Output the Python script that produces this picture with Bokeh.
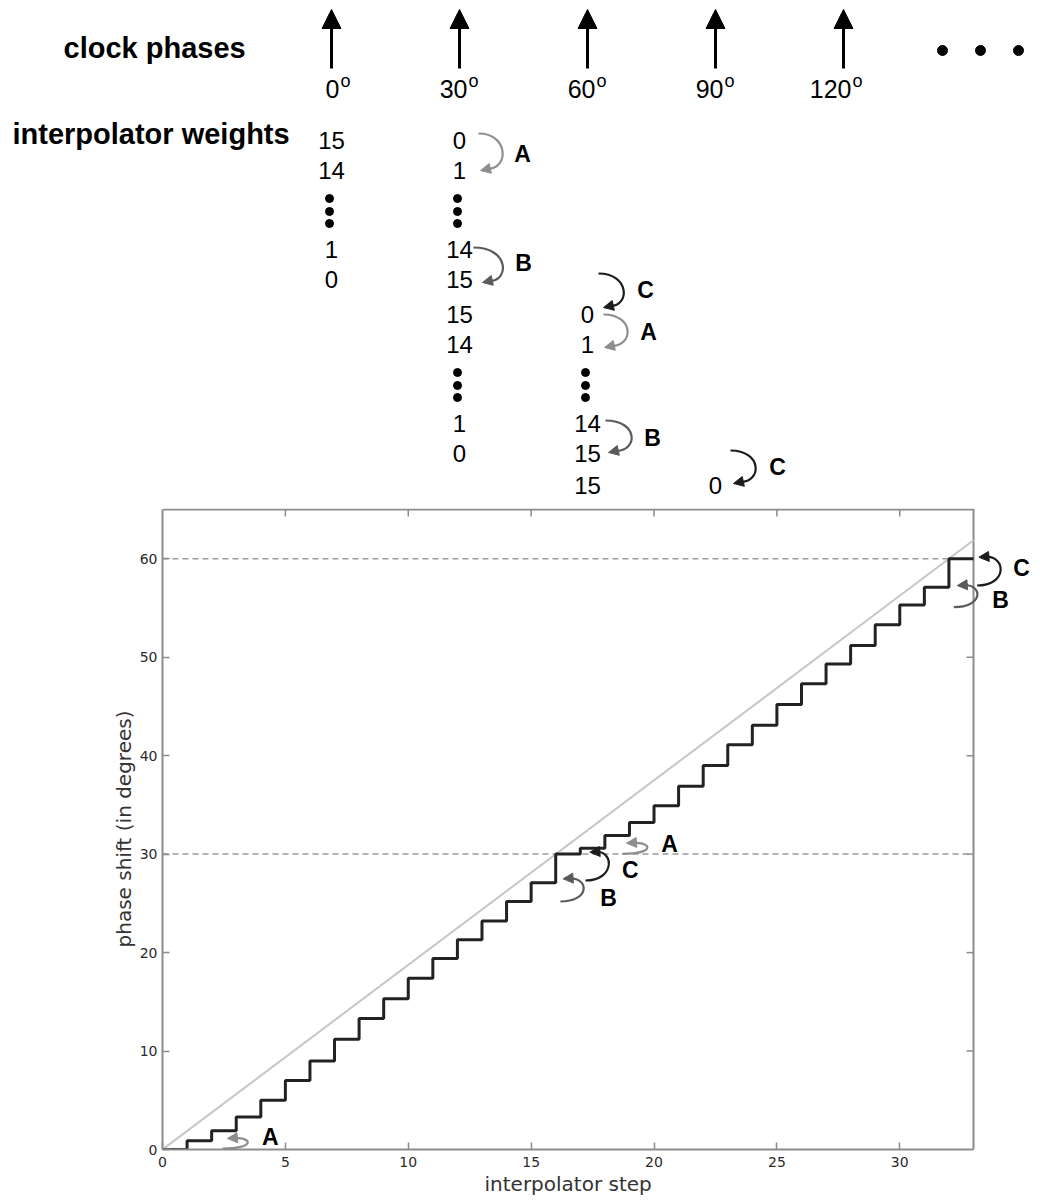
from bokeh.plotting import figure
from bokeh.layouts import column
from bokeh.models import Range1d, FixedTicker, Arrow, NormalHead, Title
from bokeh.core.properties import value
from bokeh.embed import file_html
from bokeh.resources import INLINE

# ---------------- chart data ----------------
interp_step = list(range(33))
phase_shift = [0.0, 0.9, 1.9, 3.3, 5.0, 7.0, 9.0, 11.2, 13.3, 15.3, 17.4, 19.4, 21.3, 23.2, 25.2, 27.1,
               30.0, 30.6, 31.9, 33.2, 34.9, 36.9, 39.0, 41.1, 43.1, 45.2, 47.3, 49.3, 51.2, 53.3, 55.3, 57.1,
               60.0]
ideal_step = [0, 33]
ideal_phase = [0.0, 61.875]
ref_levels = [30, 60]
x_ticks = [0, 5, 10, 15, 20, 25, 30]
y_ticks = [0, 10, 20, 30, 40, 50, 60]
X_MAX = 33
Y_MAX = 65
x_title = "interpolator step"
y_title = "phase shift (in degrees)"

# chart annotations: (label, start_x, start_y, right_x, tip_x, tip_y, label_x, label_y)
chart_arcs = [
    ("A", 2.44, 0.10, 3.46, 2.64, 1.12, 4.39, 1.32),
    ("B", 16.19, 25.19, 17.13, 16.30, 27.49, 18.15, 25.59),
    ("C", 17.21, 27.32, 18.15, 17.39, 30.19, 19.04, 28.34),
    ("A", 18.71, 30.03, 19.72, 18.88, 31.11, 20.63, 30.98),
    ("B", 32.20, 55.08, 33.15, 32.34, 57.28, 34.10, 55.76),
    ("C", 33.15, 57.28, 34.10, 33.22, 60.16, 34.95, 59.11),
]

# ---------------- diagram data ----------------
clock_phases = ["0", "30", "60", "90", "120"]
row_labels = ["clock phases", "interpolator weights"]
# (column index, block index, weights)
weight_runs = [
    (0, 0, ["15", "14", "1", "0"]),
    (1, 0, ["0", "1", "14", "15"]),
    (1, 1, ["15", "14", "1", "0"]),
    (2, 1, ["0", "1", "14", "15"]),
    (2, 2, ["15"]),
    (3, 2, ["0"]),
]
# diagram arcs (page px): (label, start_x, start_y, right_x, tip_x, tip_y, label_x, label_y)
diagram_arcs = [
    ("A", 478, 133, 502, 480, 170, 522, 153),
    ("B", 473, 247, 502, 482, 282, 523, 262),
    ("C", 598, 273, 623, 603, 307, 645, 289),
    ("A", 603, 314, 627, 604, 347, 648, 331),
    ("B", 605, 420, 631, 608, 452, 652, 437),
    ("C", 730, 450, 755, 733, 483, 777, 466),
]

ARC_COLORS = {"A": "#8e8e8e", "B": "#5a5a5a", "C": "#1c1c1c"}
COL_X = [331, 459, 587, 715, 843]
BLOCK_Y = [140, 314, 485]        # visual centres of the first weight row of each block
ROW_OFF = [0, 30, 109, 139]
DOT_OFF = [58, 71, 83]
ELLIPSIS_X = [942, 980, 1018]

SANS = value("Liberation Sans")
W = 1040
TOP_H = 508


def bez(sx, sy, rx, ex, ey):
    xr = (8 * rx - sx - ex) / 6.0
    return dict(x0=[sx], y0=[sy], x1=[ex], y1=[ey], cx0=[xr], cy0=[sy], cx1=[xr], cy1=[ey])


# ================= top diagram figure =================
top = figure(width=W, height=TOP_H, x_range=Range1d(0, W), y_range=Range1d(TOP_H, 0),
             output_backend="svg", toolbar_location=None,
             min_border_left=0, min_border_right=0, min_border_top=0, min_border_bottom=0)
top.frame_align = False
top.axis.visible = False
top.grid.visible = False
top.outline_line_color = None
top.background_fill_color = "white"
top.border_fill_color = "white"

top.text(x=[63, 12], y=[47, 133], text=row_labels, text_font=SANS,
         text_font_size=value("29px"), text_font_style="bold",
         text_align="left", text_baseline="alphabetic", text_color="black")

# clock phase arrows and labels
for i, ph in enumerate(clock_phases):
    cx = COL_X[i]
    top.add_layout(Arrow(end=NormalHead(size=19, fill_color="black", line_color="black", line_width=1),
                         x_start=cx, y_start=68, x_end=cx, y_end=9,
                         line_color="black", line_width=3))
top.text(x=[c + 8 for c in COL_X], y=[88] * len(COL_X), text=clock_phases, text_font=SANS,
         text_font_size=value("25px"), text_align="right", text_baseline="alphabetic",
         text_color="black")
top.text(x=[c + 9 for c in COL_X], y=[80] * len(COL_X), text=["o"] * len(COL_X), text_font=SANS,
         text_font_size=value("18px"), text_align="left", text_baseline="alphabetic",
         text_color="black")
top.scatter(x=ELLIPSIS_X, y=[50] * 3, size=10, marker="circle", color="black")

# interpolator weights
for col, blk, vals in weight_runs:
    xs = [COL_X[col]] * len(vals)
    ys = [BLOCK_Y[blk] + ROW_OFF[k] for k in range(len(vals))]
    top.text(x=xs, y=ys, text=vals, text_font=SANS, text_font_size=value("24px"),
             text_align="center", text_baseline="alphabetic", text_color="black")
    if len(vals) == 4:
        top.scatter(x=[COL_X[col] - 2] * 3, y=[BLOCK_Y[blk] + d for d in DOT_OFF],
                    size=8, marker="circle", color="black")

for lab, sx, sy, rx, tx, ty, lx, ly in diagram_arcs:
    c = ARC_COLORS[lab]
    ex, ey = tx + 7, ty - 1.5
    top.bezier(**bez(sx, sy, rx, ex, ey), line_color=c, line_width=2.2)
    top.add_layout(Arrow(end=NormalHead(size=10, fill_color=c, line_color=c, line_width=1),
                         x_start=ex, y_start=ey, x_end=tx, y_end=ty, line_color=c, line_width=2))
    top.text(x=[lx], y=[ly], text=[lab], text_font=SANS, text_font_size=value("23px"),
             text_font_style="bold", text_align="center", text_baseline="alphabetic",
             text_color="black")

# ================= chart figure =================
FRAME_L = 162
FRAME_B = 1149
CHART_H = 1202 - TOP_H
FRAME_H = FRAME_B - TOP_H
PX_Y = 9.846
PX_X = 24.576
Y_END = FRAME_H / PX_Y
X_END = (W - FRAME_L) / PX_X

chart = figure(width=W, height=CHART_H, x_range=Range1d(0, X_END), y_range=Range1d(0, Y_END),
               output_backend="svg", toolbar_location=None,
               min_border_left=FRAME_L, min_border_right=0, min_border_top=0,
               min_border_bottom=CHART_H - FRAME_H)
chart.frame_align = False
chart.outline_line_color = None
chart.grid.visible = False
chart.background_fill_color = "white"
chart.border_fill_color = "white"

AX_COL = "#8c8c8c"
for ax in (chart.xaxis[0], chart.yaxis[0]):
    ax.axis_line_color = AX_COL
    ax.axis_line_width = 2
    ax.major_tick_line_color = AX_COL
    ax.major_tick_line_width = 1.5
    ax.major_tick_in = 7
    ax.major_tick_out = 0
    ax.minor_tick_line_color = None
    ax.major_label_text_font = "DejaVu Sans"
    ax.major_label_text_font_size = "14px"
    ax.major_label_text_color = "#2a2a2a"
    ax.axis_label_text_font = "DejaVu Sans"
    ax.axis_label_text_font_size = "20px"
    ax.axis_label_text_font_style = "normal"
    ax.axis_label_text_color = "#333333"

chart.xaxis.major_label_standoff = 7
chart.yaxis.major_label_standoff = 5
chart.yaxis.axis_label_standoff = 1
chart.xaxis.ticker = FixedTicker(ticks=x_ticks)
chart.yaxis.ticker = FixedTicker(ticks=y_ticks)
chart.xaxis.bounds = (0, X_MAX)
chart.yaxis.bounds = (0, Y_MAX)
chart.yaxis.axis_label = y_title

# x title centred under the 0..33 box (the frame extends further right for annotations)
XT_W = 167
chart.add_layout(Title(text=x_title, align="left", offset=X_MAX / 2 * PX_X - XT_W / 2,
                       text_font="DejaVu Sans", text_font_size="20px", text_font_style="normal",
                       text_color="#333333", standoff=0), "below")

# box top / right, mirrored ticks
chart.line(x=[0, X_MAX, X_MAX], y=[Y_MAX, Y_MAX, 0], line_color=AX_COL, line_width=2)
tx_ = x_ticks[1:]
chart.segment(x0=tx_, y0=[Y_MAX] * len(tx_), x1=tx_, y1=[Y_MAX - 7 / PX_Y] * len(tx_),
              line_color=AX_COL, line_width=1.5)
ty_ = y_ticks[1:]
chart.segment(x0=[X_MAX] * len(ty_), y0=ty_, x1=[X_MAX - 7 / PX_X] * len(ty_), y1=ty_,
              line_color=AX_COL, line_width=1.5)

for lvl in ref_levels:
    chart.line(x=[0, X_MAX], y=[lvl, lvl], line_color="#9a9a9a", line_width=1.5, line_dash="6 4")

chart.line(x=ideal_step, y=ideal_phase, line_color="#c6c6c6", line_width=2)
chart.step(x=interp_step + [X_MAX], y=phase_shift + [phase_shift[-1]], mode="after",
           line_color="#222222", line_width=3)

for lab, sx, sy, rx, tx, ty, lx, ly in chart_arcs:
    c = ARC_COLORS[lab]
    ex, ey = tx + 7 / PX_X, ty + 0.5 / PX_Y
    chart.bezier(**bez(sx, sy, rx, ex, ey), line_color=c, line_width=2.2)
    chart.add_layout(Arrow(end=NormalHead(size=10, fill_color=c, line_color=c, line_width=1),
                           x_start=ex, y_start=ey, x_end=tx, y_end=ty, line_color=c, line_width=2))
    chart.text(x=[lx], y=[ly], text=[lab], text_font=SANS,
               text_font_size=value("23px"), text_font_style="bold", text_align="center",
               text_baseline="alphabetic", text_color="black")

layout = column(top, chart)
open("out.html", "w").write(file_html(layout, INLINE))
